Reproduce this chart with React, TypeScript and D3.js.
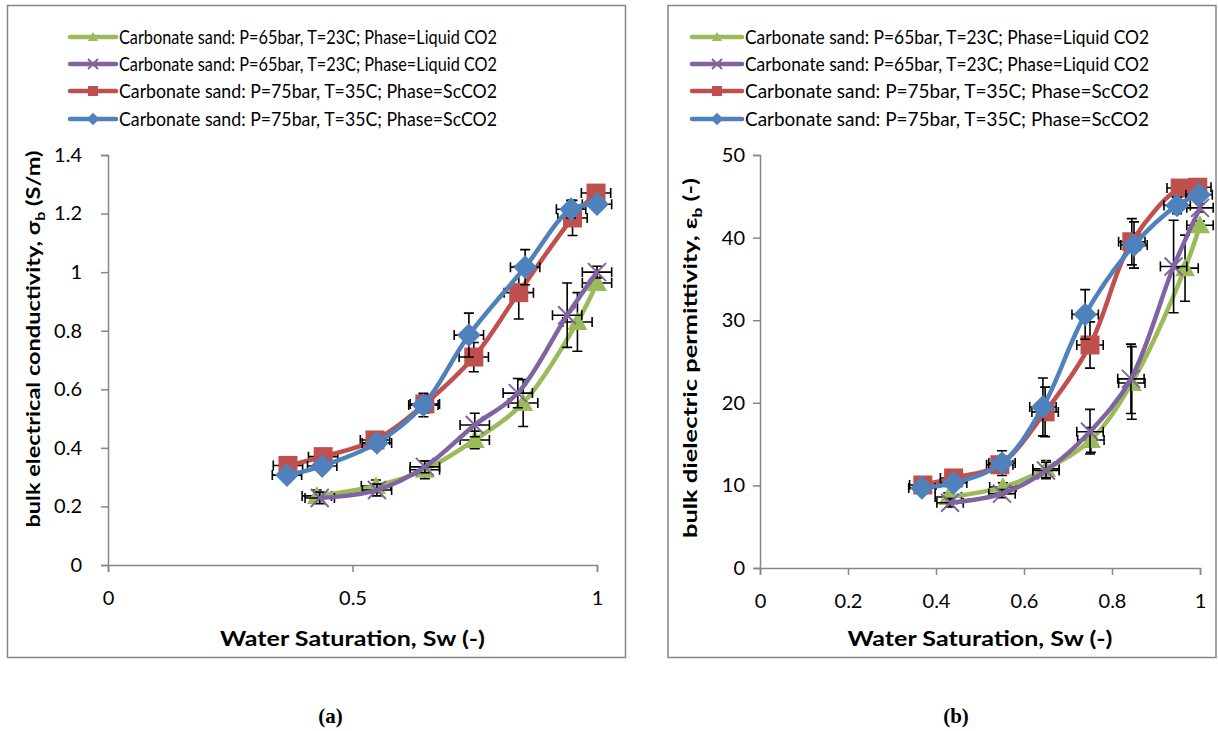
import { useEffect, useRef } from 'react'
import * as d3 from 'd3'

const FONT = 'Lato, "Open Sans", sans-serif'
const AXIS_COLOR = '#868686'

const SERIES_NAMES = [
  'Carbonate sand: P=65bar, T=23C; Phase=Liquid CO2',
  'Carbonate sand: P=65bar, T=23C; Phase=Liquid CO2',
  'Carbonate sand: P=75bar, T=35C; Phase=ScCO2',
  'Carbonate sand: P=75bar, T=35C; Phase=ScCO2',
]
const SERIES_COLORS = ['#9bbb59', '#8064a2', '#c0504d', '#4f81bd']
const SERIES_MARKERS = ['triangle', 'cross', 'square', 'diamond']

// (a) bulk electrical conductivity
const condGreenSw = [0.427, 0.548, 0.648, 0.75, 0.849, 0.96, 1.0]
const condGreen = [0.236, 0.27, 0.325, 0.427, 0.553, 0.83, 0.963]
const condGreenErr = [0.02, 0.02, 0.03, 0.03, 0.08, 0.1, 0.02]
const condPurpleSw = [0.433, 0.55, 0.648, 0.75, 0.838, 0.939, 1.0]
const condPurple = [0.229, 0.256, 0.335, 0.478, 0.587, 0.853, 1.0]
const condPurpleErr = [0.02, 0.02, 0.02, 0.04, 0.05, 0.11, 0.02]
const condRedSw = [0.368, 0.44, 0.546, 0.648, 0.748, 0.84, 0.95, 0.998]
const condRed = [0.34, 0.37, 0.427, 0.55, 0.71, 0.93, 1.185, 1.27]
const condRedErr = [0.02, 0.02, 0.02, 0.03, 0.05, 0.09, 0.06, 0.02]
const condBlueSw = [0.366, 0.438, 0.55, 0.645, 0.738, 0.853, 0.947, 1.0]
const condBlue = [0.307, 0.338, 0.417, 0.546, 0.785, 1.017, 1.215, 1.232]
const condBlueErr = [0.02, 0.02, 0.02, 0.04, 0.075, 0.06, 0.03, 0.02]

// (b) bulk dielectric permittivity
const permGreenSw = [0.428, 0.552, 0.65, 0.752, 0.845, 0.966, 1.0]
const permGreen = [8.6, 9.8, 12.0, 15.5, 22.4, 36.3, 41.5]
const permGreenErr = [0.5, 0.5, 1, 1.5, 4.4, 4, 0.5]
const permPurpleSw = [0.432, 0.55, 0.65, 0.75, 0.843, 0.94, 1.0]
const permPurple = [7.9, 9.0, 11.8, 16.5, 22.9, 36.5, 43.6]
const permPurpleErr = [0.5, 0.5, 1, 2.7, 4.2, 5.6, 0.5]
const permRedSw = [0.37, 0.44, 0.545, 0.648, 0.75, 0.845, 0.955, 0.995]
const permRed = [10.05, 10.9, 12.5, 18.9, 27.0, 39.5, 46.0, 46.1]
const permRedErr = [0.5, 0.5, 1, 3, 2.8, 2.8, 1, 0.5]
const permBlueSw = [0.368, 0.44, 0.55, 0.643, 0.739, 0.85, 0.948, 0.998]
const permBlue = [9.7, 10.3, 12.7, 19.5, 30.7, 39.1, 43.9, 45.2]
const permBlueErr = [0.5, 0.5, 1.5, 3.5, 3, 2.8, 1, 0.5]

const SW_ERR = 0.03

const condXTicks = [0, 0.5, 1]
const condYTicks = [0, 0.2, 0.4, 0.6, 0.8, 1, 1.2, 1.4]
const permXTicks = [0, 0.2, 0.4, 0.6, 0.8, 1]
const permYTicks = [0, 10, 20, 30, 40, 50]

const X_TITLE = 'Water Saturation, Sw (-)'

interface Pt {
  x: number
  y: number
  e: number
}

function toPoints(xs: number[], ys: number[], es: number[]): Pt[] {
  return xs.map((x, i) => ({ x, y: ys[i], e: es[i] }))
}

function markerPath(kind: string, s: number) {
  if (kind === 'triangle')
    return `M0,${-s} L${s},${s * 0.8} L${-s},${s * 0.8} Z`
  if (kind === 'square') return `M${-s},${-s} H${s} V${s} H${-s} Z`
  if (kind === 'diamond') return `M0,${-s * 1.25} L${s * 1.25},0 L0,${s * 1.25} L${-s * 1.25},0 Z`
  return `M${-s},${-s} L${s},${s} M${-s},${s} L${s},${-s}`
}

type G = d3.Selection<SVGGElement, unknown, null, undefined>

function drawMarker(g: G, kind: string, color: string, cx: number, cy: number, s: number) {
  const p = g
    .append('path')
    .attr('d', markerPath(kind, s))
    .attr('transform', `translate(${cx},${cy})`)
  if (kind === 'cross') {
    p.attr('fill', 'none').attr('stroke', color).attr('stroke-width', 2)
  } else {
    p.attr('fill', color)
  }
}

interface PanelCfg {
  box: [number, number, number, number]
  xRange: [number, number]
  yRange: [number, number]
  yDomain: [number, number]
  xTicks: number[]
  yTicks: number[]
  yPad: number
  series: Pt[][]
  yTitle: string
  yTitleSym: string
  yTitleTail: string
  yTitleX: number
  yTitleY: number
  yTitleLen: number
  legendX: number
  legendLineW: number
  legendTextLen: number
  caption: string
}

function drawPanel(svg: d3.Selection<SVGSVGElement, unknown, null, undefined>, cfg: PanelCfg) {
  const [bx, by, bw, bh] = cfg.box
  svg
    .append('rect')
    .attr('x', bx)
    .attr('y', by)
    .attr('width', bw)
    .attr('height', bh)
    .attr('fill', '#fff')
    .attr('stroke', AXIS_COLOR)
    .attr('stroke-width', 1.5)

  const x = d3.scaleLinear().domain([0, 1]).range(cfg.xRange)
  const y = d3.scaleLinear().domain(cfg.yDomain).range(cfg.yRange)
  const fmt = (d: d3.NumberValue) => String(+Number(d).toFixed(1))

  const styleAxis = (sel: G, size: number) => {
    sel.selectAll('.domain, .tick line').attr('stroke', AXIS_COLOR).attr('stroke-width', 1.5)
    sel.selectAll('.tick text').attr('fill', '#000').style('font-family', FONT).style('font-size', `${size}px`)
  }

  svg
    .append('g')
    .attr('transform', `translate(0,${cfg.yRange[0]})`)
    .call(d3.axisBottom(x).tickValues(cfg.xTicks).tickFormat(fmt).tickSize(7).tickSizeOuter(7).tickPadding(19))
    .call((sel: G) => styleAxis(sel, 20))

  svg
    .append('g')
    .attr('transform', `translate(${cfg.xRange[0]},0)`)
    .call(d3.axisLeft(y).tickValues(cfg.yTicks).tickFormat(fmt).tickSize(7).tickSizeOuter(7).tickPadding(cfg.yPad))
    .call((sel: G) => styleAxis(sel, 20))

  const line = d3
    .line<Pt>()
    .x((d) => x(d.x))
    .y((d) => y(d.y))
    .curve(d3.curveCatmullRom.alpha(0.5))

  const plot = svg.append('g')
  cfg.series.forEach((pts, si) => {
    const color = SERIES_COLORS[si]
    const sg = plot.append('g')
    // error bars
    pts.forEach((p) => {
      const cx = x(p.x)
      const cy = y(p.y)
      const x0 = x(p.x - SW_ERR)
      const x1 = x(p.x + SW_ERR)
      const y0 = y(p.y - p.e)
      const y1 = y(p.y + p.e)
      const path = `M${x0},${cy} H${x1} M${x0},${cy - 5} V${cy + 5} M${x1},${cy - 5} V${cy + 5} M${cx},${y0} V${y1} M${cx - 5},${y0} H${cx + 5} M${cx - 5},${y1} H${cx + 5}`
      sg.append('path').attr('d', path).attr('stroke', '#000').attr('stroke-width', 1.6).attr('fill', 'none')
    })
    sg.append('path')
      .datum(pts)
      .attr('d', line)
      .attr('fill', 'none')
      .attr('stroke', color)
      .attr('stroke-width', 4.5)
      .attr('stroke-linejoin', 'round')
    pts.forEach((p) => {
      const kind = SERIES_MARKERS[si]
      const s = kind === 'cross' ? 9 : kind === 'diamond' ? 9.5 : kind === 'triangle' ? 10 : 9.5
      drawMarker(sg, kind, color, x(p.x), y(p.y), s)
    })
  })

  // legend
  const rowY = [37, 64, 91, 119]
  SERIES_NAMES.forEach((name, i) => {
    const lx = cfg.legendX
    const cy = rowY[i]
    svg
      .append('line')
      .attr('x1', lx)
      .attr('x2', lx + cfg.legendLineW)
      .attr('y1', cy)
      .attr('y2', cy)
      .attr('stroke', SERIES_COLORS[i])
      .attr('stroke-width', 4.5)
      .attr('stroke-linecap', 'round')
    const lg = svg.append('g')
    drawMarker(lg, SERIES_MARKERS[i], SERIES_COLORS[i], lx + cfg.legendLineW / 2, cy, 5)
    svg
      .append('text')
      .attr('x', lx + cfg.legendLineW + 3)
      .attr('y', cy)
      .attr('dy', '0.36em')
      .attr('textLength', cfg.legendTextLen)
      .attr('lengthAdjust', 'spacingAndGlyphs')
      .style('font-family', FONT)
      .style('font-size', '19px')
      .text(name)
  })

  // x title
  svg
    .append('text')
    .attr('x', (cfg.xRange[0] + cfg.xRange[1]) / 2)
    .attr('y', 646)
    .attr('text-anchor', 'middle')
    .attr('textLength', 265)
    .attr('lengthAdjust', 'spacingAndGlyphs')
    .style('font-family', FONT)
    .style('font-size', '20px')
    .style('font-weight', 'bold')
    .text(X_TITLE)

  // y title
  const yt = svg
    .append('text')
    .attr('transform', `translate(${cfg.yTitleX},${cfg.yTitleY}) rotate(-90)`)
    .attr('text-anchor', 'middle')
    .attr('textLength', cfg.yTitleLen)
    .attr('lengthAdjust', 'spacingAndGlyphs')
    .style('font-family', FONT)
    .style('font-size', '19px')
    .style('font-weight', 'bold')
  yt.append('tspan').text(cfg.yTitle)
  yt.append('tspan').text(cfg.yTitleSym)
  yt.append('tspan').attr('dy', 5).style('font-size', '13px').text('b')
  yt.append('tspan').attr('dy', -5).text(cfg.yTitleTail)

  // caption
  svg
    .append('text')
    .attr('x', (bx + bx + bw) / 2 + 14)
    .attr('y', 723)
    .attr('text-anchor', 'middle')
    .style('font-family', '"Liberation Serif", "Times New Roman", serif')
    .style('font-size', '21px')
    .style('font-weight', 'bold')
    .text(cfg.caption)
}

export default function App() {
  const ref = useRef<SVGSVGElement>(null)

  useEffect(() => {
    const el = ref.current
    if (!el) return
    const svg = d3.select(el)
    svg.selectAll('*').remove()

    drawPanel(svg, {
      box: [7.5, 5.5, 618, 652],
      xRange: [108, 597],
      yRange: [565, 155],
      yDomain: [0, 1.4],
      xTicks: condXTicks,
      yTicks: condYTicks,
      yPad: 19,
      series: [
        toPoints(condGreenSw, condGreen, condGreenErr),
        toPoints(condPurpleSw, condPurple, condPurpleErr),
        toPoints(condRedSw, condRed, condRedErr),
        toPoints(condBlueSw, condBlue, condBlueErr),
      ],
      yTitle: 'bulk electrical conductivity, ',
      yTitleSym: 'σ',
      yTitleTail: ' (S/m)',
      yTitleX: 40,
      yTitleY: 339,
      yTitleLen: 377,
      legendX: 70,
      legendLineW: 46,
      legendTextLen: 378,
      caption: '(a)',
    })

    drawPanel(svg, {
      box: [668, 5.5, 548, 652],
      xRange: [760, 1200],
      yRange: [568, 155],
      yDomain: [0, 50],
      xTicks: permXTicks,
      yTicks: permYTicks,
      yPad: 8,
      series: [
        toPoints(permGreenSw, permGreen, permGreenErr),
        toPoints(permPurpleSw, permPurple, permPurpleErr),
        toPoints(permRedSw, permRed, permRedErr),
        toPoints(permBlueSw, permBlue, permBlueErr),
      ],
      yTitle: 'bulk dielectric permittivity, ',
      yTitleSym: 'ε',
      yTitleTail: ' (-)',
      yTitleX: 697,
      yTitleY: 358,
      yTitleLen: 360,
      legendX: 692,
      legendLineW: 50,
      legendTextLen: 404,
      caption: '(b)',
    })
  }, [])

  return (
    <div style={{ position: 'absolute', left: 0, top: 0 }}>
      <svg ref={ref} width={1218} height={731} style={{ display: 'block', background: '#fff' }} />
    </div>
  )
}
